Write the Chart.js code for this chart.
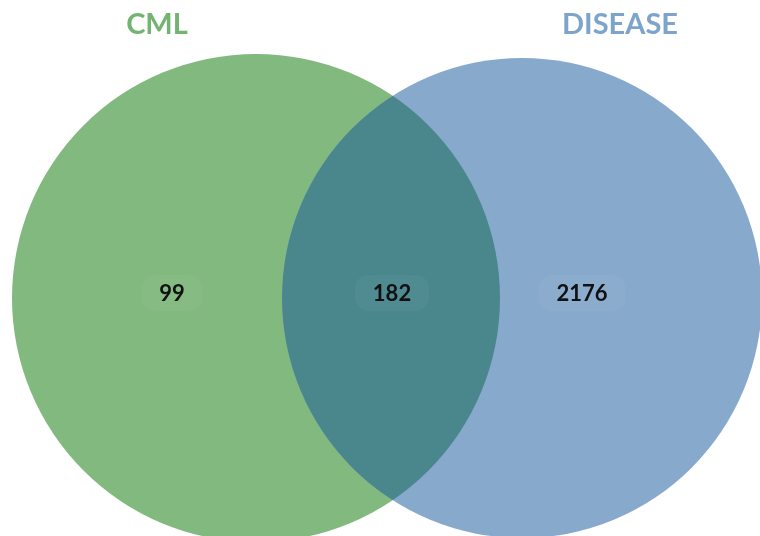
<!DOCTYPE html>
<html>
<head>
<meta charset="utf-8">
<script src="https://cdn.jsdelivr.net/npm/chart.js@4/dist/chart.umd.min.js"></script>
<style>
  html, body { margin: 0; padding: 0; background: #fff; }
  #venn { display: block; }
</style>
</head>
<body>
<canvas id="venn" width="760" height="536"></canvas>
<script>
// Venn of CML genes vs disease genes
const setNames = ['CML', 'DISEASE'];
const regionCounts = [99, 182, 2176];   // only CML, shared, only DISEASE

// circle layout in plot units (same as pixels here)
const circleX = [256, 522];
const circleY = [298, 298];
const circleR = [244, 240];
const countX = [172, 392, 582];
const countY = [293, 293, 293];
const nameX = [157, 620];
const nameY = [25, 25];

const fillColors = ['#82b97f', '#87a9cc'];
const overlapColor = '#4a878d';
const nameColors = ['#74b473', '#7da5cb'];

const vennPlugin = {
  id: 'vennExtras',
  afterDatasetsDraw(chart) {
    const ctx = chart.ctx;
    const a = chart.getDatasetMeta(0).data[0];
    const b = chart.getDatasetMeta(0).data[1];
    const sx = chart.scales.x, sy = chart.scales.y;

    // shared region
    ctx.save();
    ctx.beginPath();
    ctx.arc(a.x, a.y, a.options.radius, 0, Math.PI * 2);
    ctx.clip();
    ctx.beginPath();
    ctx.arc(b.x, b.y, b.options.radius, 0, Math.PI * 2);
    ctx.fillStyle = overlapColor;
    ctx.fill();
    ctx.restore();

    // counts
    ctx.save();
    ctx.textAlign = 'center';
    ctx.textBaseline = 'middle';
    ctx.font = 'bold 22px Lato, "Open Sans", sans-serif';
    regionCounts.forEach((n, i) => {
      const px = sx.getPixelForValue(countX[i]);
      const py = sy.getPixelForValue(countY[i]);
      const w = ctx.measureText(String(n)).width + 36;
      ctx.fillStyle = 'rgba(255,255,255,0.035)';
      ctx.beginPath();
      ctx.roundRect(px - w / 2, py - 18, w, 36, 14);
      ctx.fill();
      ctx.fillStyle = '#111';
      ctx.fillText(String(n), px, py + 1);
    });

    // set names
    ctx.font = 'bold 29px Lato, "Open Sans", sans-serif';
    setNames.forEach((name, i) => {
      ctx.fillStyle = nameColors[i];
      ctx.fillText(name, sx.getPixelForValue(nameX[i]), sy.getPixelForValue(nameY[i]));
    });
    ctx.restore();
  }
};

new Chart(document.getElementById('venn'), {
  type: 'bubble',
  data: {
    datasets: [{
      data: setNames.map((s, i) => ({ x: circleX[i], y: circleY[i], r: circleR[i] })),
      backgroundColor: fillColors,
      borderWidth: 0,
      hoverBorderWidth: 0,
      radius: c => {
        const sx = c.chart.scales.x;
        const r = c.raw ? c.raw.r : 0;
        return sx.getPixelForValue(r) - sx.getPixelForValue(0);
      },
      hoverRadius: 0,
      clip: false
    }]
  },
  options: {
    responsive: false,
    animation: false,
    events: [],
    layout: { padding: 0, autoPadding: false },
    plugins: { legend: { display: false }, tooltip: { enabled: false } },
    scales: {
      x: { type: 'linear', min: 0, max: 760, display: false },
      y: { type: 'linear', min: 0, max: 536, reverse: true, display: false }
    }
  },
  plugins: [vennPlugin]
});
</script>
</body>
</html>
